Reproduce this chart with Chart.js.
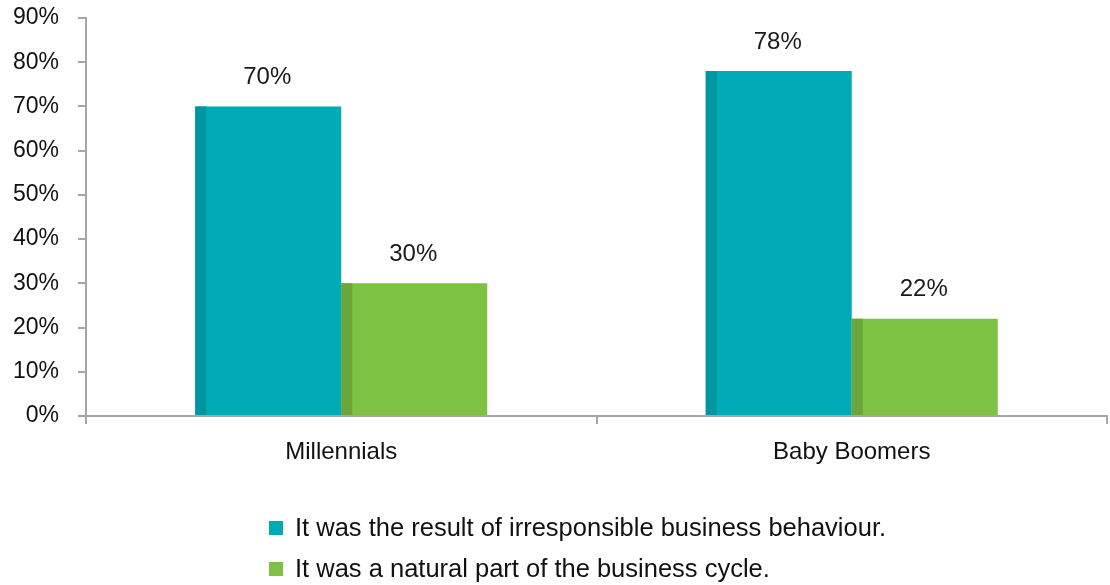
<!DOCTYPE html>
<html>
<head>
<meta charset="utf-8">
<script src="https://cdn.jsdelivr.net/npm/chart.js@4.4.1/dist/chart.umd.min.js"></script>
<style>
  html, body { margin: 0; padding: 0; background: #ffffff; }
  #wrap { width: 1110px; height: 585px; position: relative; }
</style>
</head>
<body>
<div id="wrap"><canvas id="chart"></canvas></div>
<script>
// Survey answers by generation (percent of respondents)
const categories = ['Millennials', 'Baby Boomers'];
const seriesNames = [
  'It was the result of irresponsible business behaviour.',
  'It was a natural part of the business cycle.'
];
const irresponsibleValues = [70, 78];
const naturalCycleValues = [30, 22];
const yTicks = [0, 10, 20, 30, 40, 50, 60, 70, 80, 90];

const FONT = "'Liberation Sans', Arial, sans-serif";
const AXIS_GREY = '#a6a6a6';

// Darker strip down the left side of each bar
const barEdgePlugin = {
  id: 'barEdge',
  afterDatasetsDraw(chart) {
    const ctx = chart.ctx;
    chart.data.datasets.forEach((ds, i) => {
      const meta = chart.getDatasetMeta(i);
      meta.data.forEach(bar => {
        const p = bar.getProps(['x', 'y', 'base', 'width'], true);
        ctx.save();
        ctx.fillStyle = ds.edgeColor;
        ctx.fillRect(p.x - p.width / 2, p.y, 11, p.base - p.y);
        ctx.restore();
      });
    });
  }
};

// Percentage labels above the bars
const valueLabelPlugin = {
  id: 'valueLabels',
  afterDatasetsDraw(chart) {
    const ctx = chart.ctx;
    ctx.save();
    ctx.font = '24px ' + FONT;
    ctx.fillStyle = '#1a1a1a';
    ctx.textAlign = 'center';
    ctx.textBaseline = 'middle';
    chart.data.datasets.forEach((ds, i) => {
      const meta = chart.getDatasetMeta(i);
      meta.data.forEach((bar, j) => {
        ctx.fillText(ds.data[j] + '%', bar.x - 1, bar.y - 29);
      });
    });
    ctx.restore();
  }
};

// Stacked legend under the axis, one entry per line
const stackedLegendPlugin = {
  id: 'stackedLegend',
  afterDraw(chart) {
    const ctx = chart.ctx;
    const left = 269, box = 14, textX = 295, rows = [528, 569];
    ctx.save();
    ctx.font = '25.5px ' + FONT;
    ctx.textBaseline = 'middle';
    ctx.textAlign = 'left';
    chart.data.datasets.forEach((ds, i) => {
      const cy = rows[i];
      ctx.fillStyle = ds.backgroundColor;
      ctx.fillRect(left, cy - box / 2, box, box);
      ctx.fillStyle = '#111';
      ctx.fillText(ds.label, textX, cy + 1);
    });
    ctx.restore();
  }
};

new Chart(document.getElementById('chart'), {
  type: 'bar',
  data: {
    labels: categories,
    datasets: [
      {
        label: seriesNames[0],
        data: irresponsibleValues,
        backgroundColor: '#00aab6',
        edgeColor: '#0096a1',
        borderWidth: 0,
        categoryPercentage: 0.572,
        barPercentage: 1
      },
      {
        label: seriesNames[1],
        data: naturalCycleValues,
        backgroundColor: '#7dc243',
        edgeColor: '#6ca63b',
        borderWidth: 0,
        categoryPercentage: 0.572,
        barPercentage: 1
      }
    ]
  },
  options: {
    responsive: true,
    maintainAspectRatio: false,
    animation: false,
    devicePixelRatio: 1,
    layout: { padding: { top: 18, right: 3, bottom: 0, left: 0 } },
    plugins: {
      legend: { display: false },
      tooltip: { enabled: false }
    },
    scales: {
      x: {
        afterFit(scale) { scale.height = 169; scale.paddingLeft = 0; scale.paddingRight = 0; },
        grid: {
          offset: true,
          drawOnChartArea: false,
          drawTicks: true,
          tickLength: 8,
          color: AXIS_GREY,
          lineWidth: 2
        },
        border: { display: true, color: AXIS_GREY, width: 2 },
        ticks: {
          padding: 14,
          color: '#111',
          font: { family: FONT, size: 24 }
        }
      },
      y: {
        min: 0,
        max: 90,
        afterFit(scale) {
          scale.width = 86;
          scale.paddingTop = 0;
          scale.paddingBottom = 0;
        },
        afterBuildTicks(scale) { scale.ticks = yTicks.map(v => ({ value: v })); },
        grid: {
          drawOnChartArea: false,
          drawTicks: true,
          tickLength: 8,
          color: AXIS_GREY,
          lineWidth: 2
        },
        border: { display: true, color: AXIS_GREY, width: 2 },
        ticks: {
          padding: 19,
          color: '#111',
          font: { family: FONT, size: 23 },
          callback: v => v + '%'
        }
      }
    }
  },
  plugins: [barEdgePlugin, valueLabelPlugin, stackedLegendPlugin]
});
</script>
</body>
</html>
